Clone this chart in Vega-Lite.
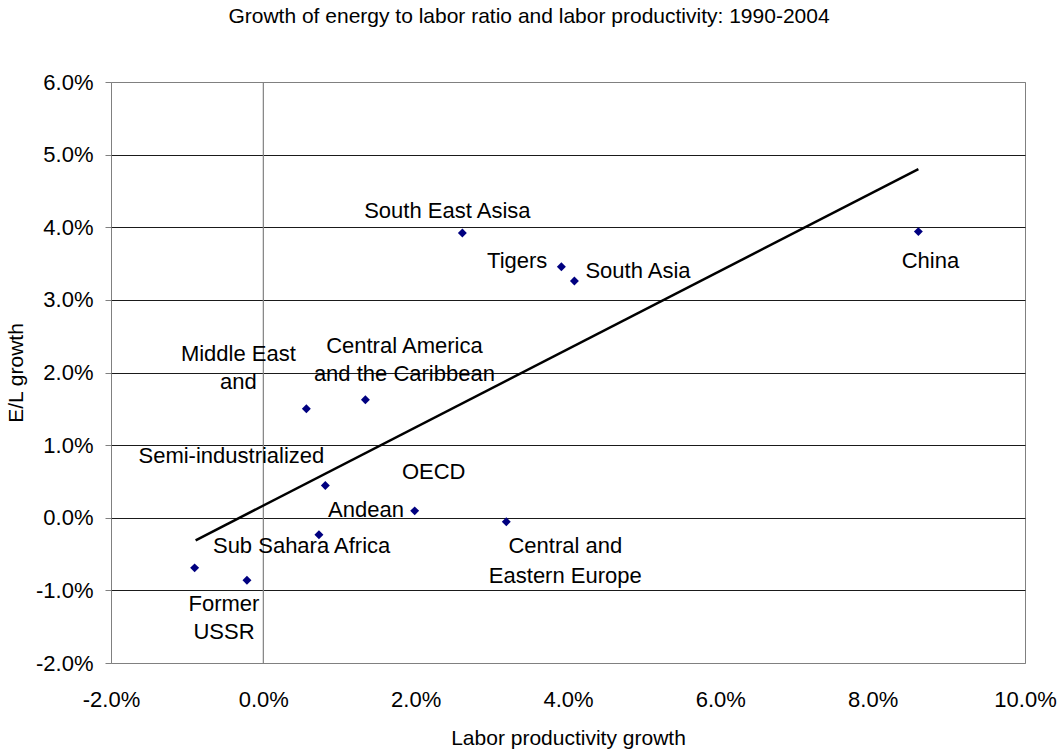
{
  "$schema": "https://vega.github.io/schema/vega-lite/v6.json",
  "autosize": "none",
  "width": 914,
  "height": 581,
  "padding": {"left": 111, "top": 82, "right": 32, "bottom": 91},
  "background": "white",
  "title": {
    "text": "Growth of energy to labor ratio and labor productivity: 1990-2004",
    "font": "Liberation Sans",
    "fontSize": 21,
    "fontWeight": "normal",
    "color": "#000000",
    "anchor": "middle",
    "offset": 44,
    "dx": -39
  },
  "config": {
    "font": "Liberation Sans",
    "view": {"stroke": "#808080", "strokeWidth": 1},
    "axis": {
      "labelFont": "Liberation Sans",
      "titleFont": "Liberation Sans",
      "labelColor": "#000000",
      "titleColor": "#000000",
      "titleFontWeight": "normal",
      "domain": false
    },
    "text": {"font": "Liberation Sans", "fontSize": 22, "color": "#000000", "lineBreak": "\n"}
  },
  "datasets": {
    "regions": [
      {"region": "China", "label": "China", "lp": 0.0860, "el": 0.0394},
      {"region": "South East Asisa", "label": "South East Asisa", "lp": 0.02613, "el": 0.0392},
      {"region": "Tigers", "label": "Tigers", "lp": 0.03913, "el": 0.03455},
      {"region": "South Asia", "label": "South Asia", "lp": 0.04084, "el": 0.0326},
      {"region": "Central America and the Caribbean", "label": "Central America\nand the Caribbean", "lp": 0.0134, "el": 0.01626},
      {"region": "Middle East and North Africa", "label": "Middle East\nand", "lp": 0.00565, "el": 0.0150},
      {"region": "Semi-industrialized", "label": "Semi-industrialized", "lp": 0.00814, "el": 0.00443},
      {"region": "OECD", "label": "OECD", "lp": 0.01987, "el": 0.00095},
      {"region": "Andean", "label": "Andean", "lp": 0.0073, "el": -0.00235},
      {"region": "Central and Eastern Europe", "label": "Central and\nEastern Europe", "lp": 0.0319, "el": -0.00056},
      {"region": "Sub Sahara Africa", "label": "Sub Sahara Africa", "lp": -0.00902, "el": -0.0069},
      {"region": "Former USSR", "label": "Former\nUSSR", "lp": -0.00215, "el": -0.0086}
    ],
    "trend": [
      {"lp": -0.00889, "el": -0.0031},
      {"lp": 0.0860, "el": 0.0480}
    ]
  },
  "data": {"name": "regions"},
  "layer": [
    {
      "mark": {"type": "rule", "color": "#808080", "strokeWidth": 1.2},
      "data": {"values": [{}]},
      "encoding": {
        "x": {"datum": 0, "type": "quantitative", "scale": {"domain": [-0.02, 0.10], "nice": false, "zero": false}}
      }
    },
    {
      "mark": {"type": "line", "color": "#000000", "strokeWidth": 2.5},
      "data": {"name": "trend"},
      "encoding": {
        "x": {"field": "lp", "type": "quantitative", "scale": {"domain": [-0.02, 0.10], "nice": false, "zero": false}, "title": "Labor productivity growth"},
        "y": {"field": "el", "type": "quantitative", "scale": {"domain": [-0.02, 0.06], "nice": false, "zero": false}, "title": "E/L growth"}
      }
    },
    {
      "mark": {"type": "point", "shape": "diamond", "filled": true, "color": "#000080", "size": 80, "opacity": 1},
      "encoding": {
        "x": {
          "field": "lp", "type": "quantitative",
          "scale": {"domain": [-0.02, 0.10], "nice": false, "zero": false},
          "title": "Labor productivity growth",
          "axis": {
            "values": [-0.02, 0, 0.02, 0.04, 0.06, 0.08, 0.1],
            "labelExpr": "(datum.value < -0.000001 ? '-' : '') + format(abs(datum.value), '.1%')",
            "grid": false, "ticks": false, "domain": false,
            "labelFontSize": 22, "labelPadding": 26, "labelFlush": false,
            "titleFontSize": 21, "titlePadding": 17
          }
        },
        "y": {
          "field": "el", "type": "quantitative",
          "scale": {"domain": [-0.02, 0.06], "nice": false, "zero": false},
          "title": "E/L growth",
          "axis": {
            "values": [-0.02, -0.01, 0, 0.01, 0.02, 0.03, 0.04, 0.05, 0.06],
            "labelExpr": "(datum.value < -0.000001 ? '-' : '') + format(abs(datum.value), '.1%')",
            "grid": true,
            "gridColor": {"condition": {"test": "datum.value < -0.0199 || datum.value > 0.0599", "value": "#808080"}, "value": "#1a1a1a"},
            "gridWidth": 1, "gridOpacity": 1,
            "ticks": true, "tickSize": 6, "tickColor": "#808080", "tickWidth": 1,
            "domain": false,
            "labelFontSize": 22, "labelPadding": 12, "labelFlush": false,
            "titleFontSize": 21, "titlePadding": 9
          }
        }
      }
    },
    {
      "transform": [{"filter": "datum.region == 'China'"}],
      "mark": {"type": "text", "align": "center", "baseline": "middle", "dx": 12, "dy": 29},
      "encoding": {"x": {"field": "lp", "type": "quantitative"}, "y": {"field": "el", "type": "quantitative"}, "text": {"field": "label"}}
    },
    {
      "transform": [{"filter": "datum.region == 'South East Asisa'"}],
      "mark": {"type": "text", "align": "center", "baseline": "middle", "dx": -15, "dy": -22},
      "encoding": {"x": {"field": "lp", "type": "quantitative"}, "y": {"field": "el", "type": "quantitative"}, "text": {"field": "label"}}
    },
    {
      "transform": [{"filter": "datum.region == 'Tigers'"}],
      "mark": {"type": "text", "align": "right", "baseline": "middle", "dx": -14, "dy": -6},
      "encoding": {"x": {"field": "lp", "type": "quantitative"}, "y": {"field": "el", "type": "quantitative"}, "text": {"field": "label"}}
    },
    {
      "transform": [{"filter": "datum.region == 'South Asia'"}],
      "mark": {"type": "text", "align": "left", "baseline": "middle", "dx": 11, "dy": -10},
      "encoding": {"x": {"field": "lp", "type": "quantitative"}, "y": {"field": "el", "type": "quantitative"}, "text": {"field": "label"}}
    },
    {
      "transform": [{"filter": "datum.region == 'Central America and the Caribbean'"}],
      "mark": {"type": "text", "align": "center", "baseline": "middle", "dx": 39, "dy": -54, "lineHeight": 28},
      "encoding": {"x": {"field": "lp", "type": "quantitative"}, "y": {"field": "el", "type": "quantitative"}, "text": {"field": "label"}}
    },
    {
      "transform": [{"filter": "datum.region == 'Middle East and North Africa'"}],
      "mark": {"type": "text", "align": "center", "baseline": "middle", "dx": -68, "dy": -55, "lineHeight": 28},
      "encoding": {"x": {"field": "lp", "type": "quantitative"}, "y": {"field": "el", "type": "quantitative"}, "text": {"field": "label"}}
    },
    {
      "transform": [{"filter": "datum.region == 'Semi-industrialized'"}],
      "mark": {"type": "text", "align": "right", "baseline": "middle", "dx": -1, "dy": -30},
      "encoding": {"x": {"field": "lp", "type": "quantitative"}, "y": {"field": "el", "type": "quantitative"}, "text": {"field": "label"}}
    },
    {
      "transform": [{"filter": "datum.region == 'OECD'"}],
      "mark": {"type": "text", "align": "center", "baseline": "middle", "dx": 19, "dy": -39},
      "encoding": {"x": {"field": "lp", "type": "quantitative"}, "y": {"field": "el", "type": "quantitative"}, "text": {"field": "label"}}
    },
    {
      "transform": [{"filter": "datum.region == 'Andean'"}],
      "mark": {"type": "text", "align": "center", "baseline": "middle", "dx": 47, "dy": -25},
      "encoding": {"x": {"field": "lp", "type": "quantitative"}, "y": {"field": "el", "type": "quantitative"}, "text": {"field": "label"}}
    },
    {
      "transform": [{"filter": "datum.region == 'Central and Eastern Europe'"}],
      "mark": {"type": "text", "align": "center", "baseline": "middle", "dx": 59, "dy": 24, "lineHeight": 30},
      "encoding": {"x": {"field": "lp", "type": "quantitative"}, "y": {"field": "el", "type": "quantitative"}, "text": {"field": "label"}}
    },
    {
      "transform": [{"filter": "datum.region == 'Sub Sahara Africa'"}],
      "mark": {"type": "text", "align": "center", "baseline": "middle", "dx": 107, "dy": -22},
      "encoding": {"x": {"field": "lp", "type": "quantitative"}, "y": {"field": "el", "type": "quantitative"}, "text": {"field": "label"}}
    },
    {
      "transform": [{"filter": "datum.region == 'Former USSR'"}],
      "mark": {"type": "text", "align": "center", "baseline": "middle", "dx": -23, "dy": 24, "lineHeight": 28},
      "encoding": {"x": {"field": "lp", "type": "quantitative"}, "y": {"field": "el", "type": "quantitative"}, "text": {"field": "label"}}
    }
  ]
}
